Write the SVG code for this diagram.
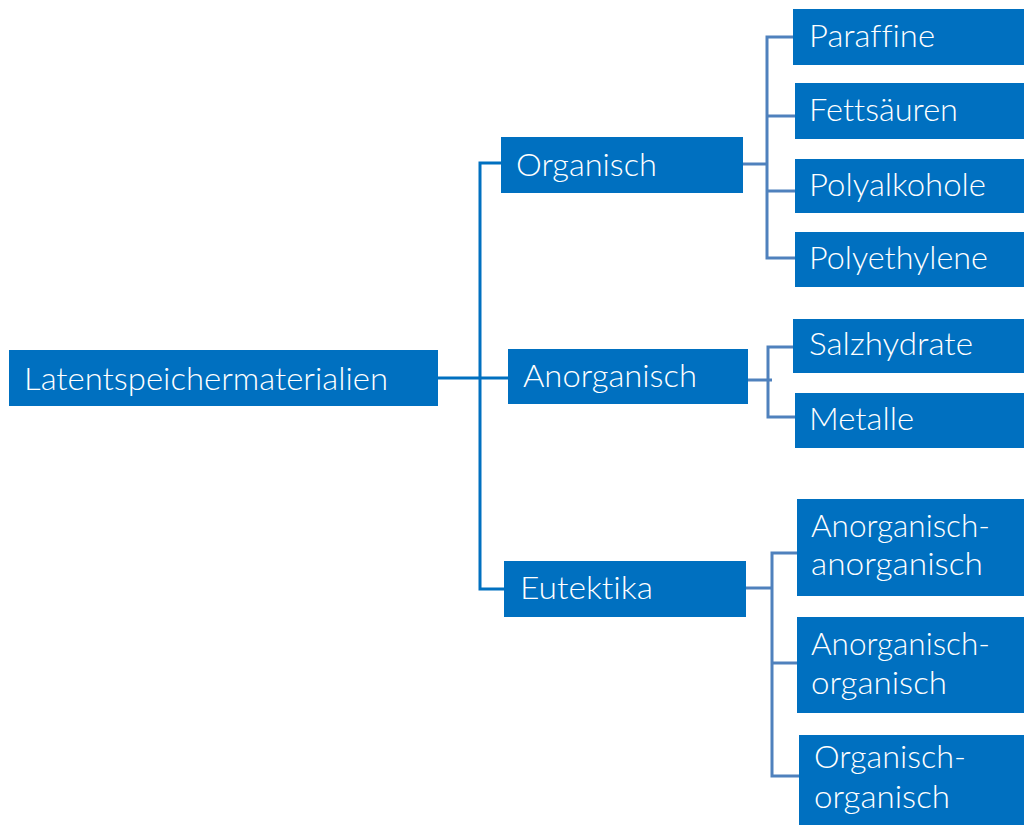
<svg xmlns="http://www.w3.org/2000/svg" width="1024" height="825" viewBox="0 0 1024 825">
  <style>
    .box { fill: #0070c0; }
    .lbl { font-family: Lato, "Open Sans", "Liberation Sans", sans-serif; font-size: 31px; font-weight: 300; fill: #ffffff; font-variant-ligatures: none; }
    .trunk { fill: none; stroke: #0070c0; stroke-width: 3; }
    .branch { fill: none; stroke: #4f81bd; stroke-width: 3; }
  </style>
  <rect width="1024" height="825" fill="#ffffff"/>

  <!-- connectors -->
  <g id="connectors">
    <path class="trunk" d="M438,378 H508"/>
    <path class="trunk" d="M501,163 H480 V589 H504"/>
    <!-- Organisch branches -->
    <path class="branch" d="M743,164 H768"/>
    <path class="branch" d="M795,37 H767 V258 H795"/>
    <path class="branch" d="M767,116 H795"/>
    <path class="branch" d="M767,191 H795"/>
    <!-- Anorganisch branches -->
    <path class="branch" d="M748,380 H772"/>
    <path class="branch" d="M793,347 H768 V417 H795"/>
    <!-- Eutektika branches -->
    <path class="branch" d="M746,588 H772"/>
    <path class="branch" d="M797,553 H772 V776 H799"/>
    <path class="branch" d="M772,663 H797"/>
  </g>

  <g id="root">
    <rect class="box" x="9" y="350" width="429" height="56"/>
    <text class="lbl" x="24" y="390" textLength="364" lengthAdjust="spacingAndGlyphs">Latentspeichermaterialien</text>
  </g>

  <g id="organisch">
    <rect class="box" x="501" y="137" width="242" height="56"/>
    <text class="lbl" x="516" y="176" textLength="141" lengthAdjust="spacingAndGlyphs">Organisch</text>
  </g>
  <g id="anorganisch">
    <rect class="box" x="508" y="349" width="240" height="55"/>
    <text class="lbl" x="523" y="387" textLength="174" lengthAdjust="spacingAndGlyphs">Anorganisch</text>
  </g>
  <g id="eutektika">
    <rect class="box" x="504" y="561" width="242" height="56"/>
    <text class="lbl" x="520" y="599" textLength="133" lengthAdjust="spacingAndGlyphs">Eutektika</text>
  </g>

  <g id="paraffine">
    <rect class="box" x="793" y="9" width="231" height="56"/>
    <text class="lbl" x="809" y="47" textLength="126" lengthAdjust="spacingAndGlyphs">Paraffine</text>
  </g>
  <g id="fettsaeuren">
    <rect class="box" x="795" y="83" width="229" height="56"/>
    <text class="lbl" x="809" y="121" textLength="149" lengthAdjust="spacingAndGlyphs">Fettsäuren</text>
  </g>
  <g id="polyalkohole">
    <rect class="box" x="795" y="159" width="229" height="54"/>
    <text class="lbl" x="809" y="196" textLength="177" lengthAdjust="spacingAndGlyphs">Polyalkohole</text>
  </g>
  <g id="polyethylene">
    <rect class="box" x="795" y="232" width="229" height="55"/>
    <text class="lbl" x="809" y="269" textLength="179" lengthAdjust="spacingAndGlyphs">Polyethylene</text>
  </g>

  <g id="salzhydrate">
    <rect class="box" x="793" y="319" width="231" height="54"/>
    <text class="lbl" x="809" y="355" textLength="164" lengthAdjust="spacingAndGlyphs">Salzhydrate</text>
  </g>
  <g id="metalle">
    <rect class="box" x="795" y="393" width="229" height="55"/>
    <text class="lbl" x="809" y="430" textLength="105" lengthAdjust="spacingAndGlyphs">Metalle</text>
  </g>

  <g id="anorg-anorg">
    <rect class="box" x="797" y="499" width="227" height="97"/>
    <text class="lbl" x="811" y="537" textLength="179" lengthAdjust="spacingAndGlyphs">Anorganisch-</text>
    <text class="lbl" x="811" y="575" textLength="172" lengthAdjust="spacingAndGlyphs">anorganisch</text>
  </g>
  <g id="anorg-org">
    <rect class="box" x="797" y="617" width="227" height="96"/>
    <text class="lbl" x="811" y="655" textLength="179" lengthAdjust="spacingAndGlyphs">Anorganisch-</text>
    <text class="lbl" x="811" y="694" textLength="136" lengthAdjust="spacingAndGlyphs">organisch</text>
  </g>
  <g id="org-org">
    <rect class="box" x="799" y="735" width="225" height="90"/>
    <text class="lbl" x="814" y="768" textLength="152" lengthAdjust="spacingAndGlyphs">Organisch-</text>
    <text class="lbl" x="814" y="808" textLength="136" lengthAdjust="spacingAndGlyphs">organisch</text>
  </g>
</svg>
